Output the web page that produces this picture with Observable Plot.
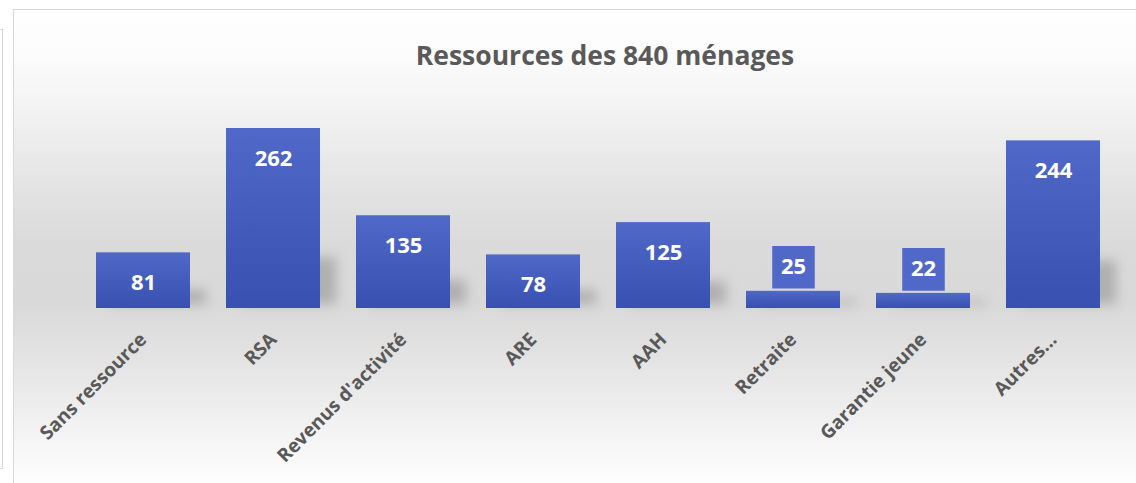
<!DOCTYPE html>
<html>
<head>
<meta charset="utf-8">
<script src="https://cdn.jsdelivr.net/npm/d3@7"></script>
<script src="https://cdn.jsdelivr.net/npm/@observablehq/plot@0.6"></script>
<style>
  html, body { margin: 0; padding: 0; background: #ffffff; overflow: hidden; }
  body { width: 1136px; height: 483px; position: relative; font-family: "Open Sans", sans-serif; }
  #leftpanel { position: absolute; left: -10px; top: 29px; width: 11px; height: 438px; border: 1.5px solid #d9d9d9; background: #fff; }
  #frame { position: absolute; left: 13px; top: 9px; width: 1140px; height: 490px; border: 1.5px solid #d9d9d9;
    background: linear-gradient(to bottom, #ffffff 0%, #fbfbfb 10%, #f1f1f1 22%, #e3e3e3 36%, #dadada 48%, #d9d9d9 60%, #e4e4e4 72%, #f3f3f3 86%, #fdfdfd 96%, #ffffff 100%); }
  #chart { position: absolute; left: 0; top: 0; width: 1136px; }
  #title { height: 80px; position: relative; }
  #title span { position: absolute; left: 605px; top: 39px; transform: translateX(-50%); white-space: nowrap;
    font-family: "Open Sans", sans-serif; font-weight: 700; font-size: 26.5px; line-height: 32px; color: #595959; }
  svg { display: block; overflow: visible; }
</style>
</head>
<body>
<div id="leftpanel"></div>
<div id="frame"></div>
<div id="chart"><div id="title"><span>Ressources des 840 ménages</span></div></div>
<script>
const categories = ["Sans ressource", "RSA", "Revenus d'activité", "ARE", "AAH", "Retraite", "Garantie jeune", "Autres..."];
const values = [81, 262, 135, 78, 125, 25, 22, 244];

const data = categories.map((c, i) => ({category: c, value: values[i]}));

const barTop = "#5068c8";
const barBottom = "#3850b0";

const plot = Plot.plot({
  width: 1136,
  height: 403,
  marginTop: 48,
  marginBottom: 175,
  marginLeft: 77,
  marginRight: 17,
  style: {background: "transparent", fontFamily: "Open Sans, sans-serif", overflow: "visible"},
  x: {domain: categories, paddingInner: 0.28, paddingOuter: 0.14, align: 0.5},
  y: {domain: [0, 262], axis: null},
  marks: [
    Plot.barY(data, {x: "category", y: d => d.value * 0.26, dx: 16, dy: -4, fill: "#7d7d7d", fillOpacity: 0.45, imageFilter: "blur(6px)"}),
    Plot.barY(data, {x: "category", y: "value", fill: "url(#barGrad)"}),
    Plot.text(data, {filter: d => d.value >= 50, x: "category", y: "value", dy: 30, text: d => String(d.value), fill: "white", fontSize: 22, fontWeight: "bold"}),
    Plot.dot(data, {filter: d => d.value < 50, x: "category", y: "value", dy: -24, symbol: "square", r: 24, fill: barTop, stroke: "none"}),
    Plot.text(data, {filter: d => d.value < 50, x: "category", y: "value", dy: -24, text: d => String(d.value), fill: "white", fontSize: 22, fontWeight: "bold"}),
    Plot.axisX({tickRotate: -45, tickSize: 0, tickPadding: 28, fontSize: 19, fontWeight: "bold", fill: "#595959", label: null})
  ]
});

const defs = d3.select(plot).insert("defs", ":first-child");
const grad = defs.append("linearGradient").attr("id", "barGrad").attr("x1", 0).attr("y1", 0).attr("x2", 0).attr("y2", 1);
grad.append("stop").attr("offset", "0%").attr("stop-color", barTop);
grad.append("stop").attr("offset", "100%").attr("stop-color", barBottom);

document.getElementById("chart").appendChild(plot);
</script>
</body>
</html>
